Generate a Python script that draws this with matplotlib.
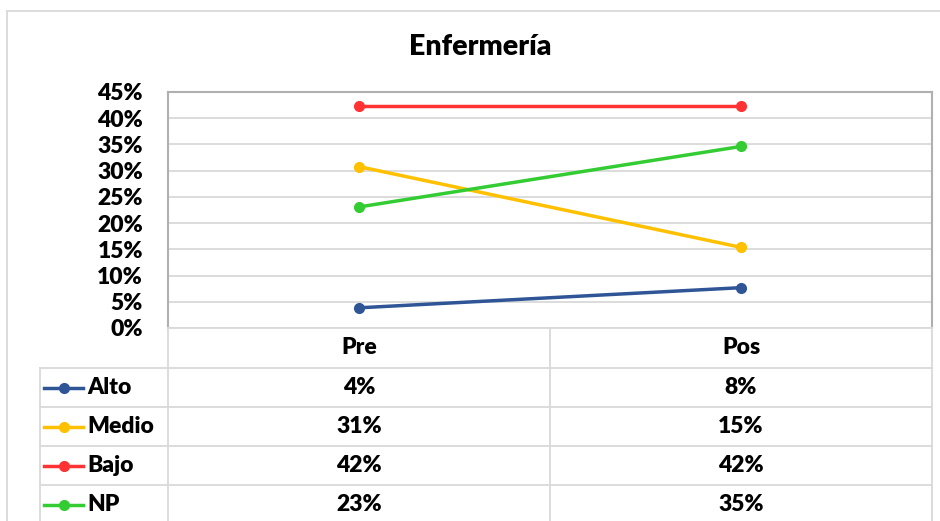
import matplotlib
matplotlib.use('Agg')
import matplotlib.pyplot as plt
import matplotlib.transforms as mtransforms
from matplotlib.lines import Line2D
from matplotlib.ticker import PercentFormatter, MultipleLocator

categories = ['Pre', 'Pos']
series_names = ['Alto', 'Medio', 'Bajo', 'NP']
alto = [0.0385, 0.0769]
medio = [0.3077, 0.1538]
bajo = [0.4231, 0.4231]
no_presenta = [0.2308, 0.3462]
series_values = [alto, medio, bajo, no_presenta]
colors = ['#2F5597', '#FFC000', '#FF3333', '#33CC33']

plt.rcParams['font.family'] = ['Lato', 'DejaVu Sans']
plt.rcParams['font.weight'] = 'bold'

W, H = 940, 521
fig = plt.figure(figsize=(W / 100, H / 100), dpi=100)


def fy(p):
    # pixel row -> figure fraction
    return 1 - p / H


grid_col = '#d9d9d9'
fs = 16.5

# plot area
ax = fig.add_axes([168 / W, fy(328), (932 - 168) / W, (328 - 92) / H])
xs = list(range(len(categories)))
for vals, c in zip(series_values, colors):
    ax.plot(xs, vals, color=c, lw=2.5, marker='o', ms=7, solid_capstyle='round')

ax.set_xlim(-0.5, len(categories) - 0.5)
ax.set_ylim(0, 0.45)
ax.yaxis.set_major_locator(MultipleLocator(0.05))
ax.yaxis.set_major_formatter(PercentFormatter(1.0, decimals=0))
ax.set_xticks(xs)
ax.set_xticklabels([])
ax.tick_params(axis='both', length=0)
ax.tick_params(axis='y', labelsize=fs, pad=18)
for lbl in ax.get_yticklabels():
    lbl.set_fontweight('heavy')
ax.yaxis.grid(True, color=grid_col, lw=1.3)
ax.set_axisbelow(True)
for side in ['left', 'top', 'right']:
    ax.spines[side].set_color('#b0b0b0')
    ax.spines[side].set_linewidth(1.5)
ax.spines['bottom'].set_color(grid_col)
ax.spines['bottom'].set_linewidth(1.3)

# title
fig.text(480 / W, fy(47), 'Enfermería', ha='center', va='center',
         fontsize=20.5, fontweight='heavy')

# outer chart border
fig.add_artist(Line2D([7 / W, 1], [fy(11), fy(11)], color=grid_col, lw=1.3,
                      transform=fig.transFigure))
fig.add_artist(Line2D([7 / W, 7 / W], [fy(11), 0], color=grid_col, lw=1.3,
                      transform=fig.transFigure))

# data table below the plot
tr = mtransforms.blended_transform_factory(ax.transData, fig.transFigure)
row_edges = [328, 368, 407, 446, 485, 524]
x_lo, x_hi = ax.get_xlim()

# vertical lines between columns
for xv in [x_lo + i for i in range(len(categories) + 1)]:
    fig.add_artist(Line2D([xv, xv], [fy(328), 0], color=grid_col, lw=1.3,
                          transform=tr))
fig.add_artist(Line2D([40 / W, 40 / W], [fy(368), 0], color=grid_col, lw=1.3,
                      transform=fig.transFigure))
# horizontal lines
for p in row_edges[1:-1]:
    fig.add_artist(Line2D([40 / W, 932 / W], [fy(p), fy(p)], color=grid_col,
                          lw=1.3, transform=fig.transFigure))

# header
for x, cat in zip(xs, categories):
    fig.text(x, fy((row_edges[0] + row_edges[1]) / 2), cat, transform=tr,
             ha='center', va='center', fontsize=fs, fontweight='heavy')

# rows
for r, (name, vals, c) in enumerate(zip(series_names, series_values, colors)):
    yc = fy((row_edges[r + 1] + row_edges[r + 2]) / 2)
    fig.add_artist(Line2D([44 / W, 83 / W], [yc, yc], color=c, lw=2.5,
                          transform=fig.transFigure))
    fig.add_artist(Line2D([64 / W], [yc], color=c, marker='o', ms=7,
                          transform=fig.transFigure))
    fig.text(87 / W, yc, name, ha='left', va='center', fontsize=fs,
             fontweight='heavy')
    for x, v in zip(xs, vals):
        fig.text(x, yc, f'{v:.0%}', transform=tr, ha='center', va='center',
                 fontsize=fs, fontweight='heavy')

fig.savefig('out.png', dpi=100, facecolor='white')
